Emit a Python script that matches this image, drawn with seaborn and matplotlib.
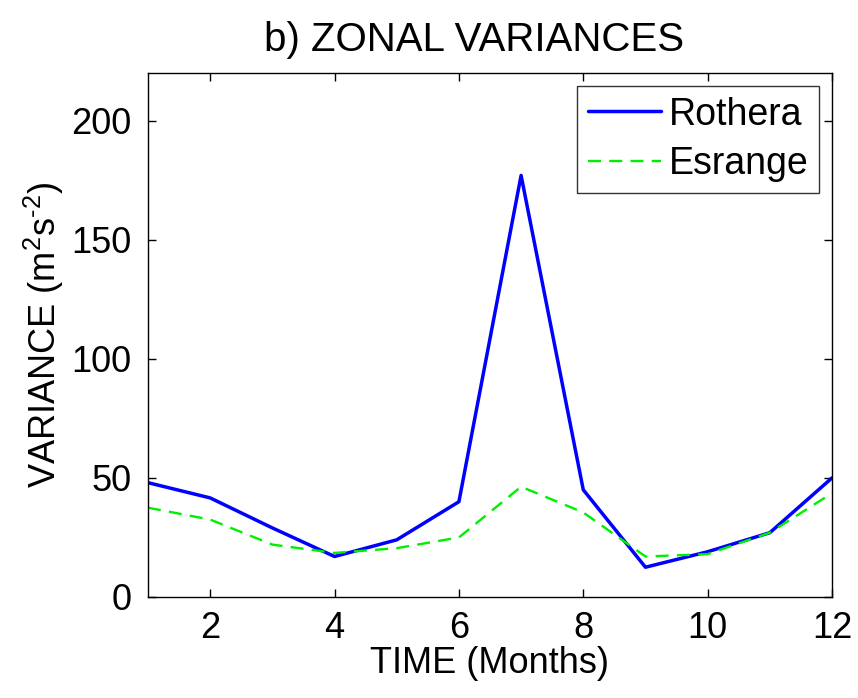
import matplotlib
matplotlib.use("Agg")
import matplotlib.pyplot as plt
import seaborn as sns
import pandas as pd

months = [1, 2, 3, 4, 5, 6, 7, 8, 9, 10, 11, 12]
rothera = [48, 41.6, 29, 17, 24, 40, 177, 45, 12.5, 19, 27, 50]
esrange = [37.5, 32.5, 22, 18.5, 20.5, 25, 46.3, 35.5, 17, 18, 27, 43.6]

sns.set_theme(style="white")
plt.rcParams['font.family'] = ['Liberation Sans', 'DejaVu Sans']
plt.rcParams['mathtext.fontset'] = 'custom'
plt.rcParams['mathtext.rm'] = 'Liberation Sans'
plt.rcParams['mathtext.it'] = 'Liberation Sans'
plt.rcParams['text.color'] = 'black'
plt.rcParams['axes.labelcolor'] = 'black'

fig = plt.figure(figsize=(8.58, 6.98), dpi=100)
ax = fig.add_axes([148/858, 1 - 597/698, (832-148)/858, (597-73)/698])

df = pd.DataFrame({"month": months, "Rothera": rothera, "Esrange": esrange})
sns.lineplot(data=df, x="month", y="Rothera", ax=ax, color="#0000ff", lw=2.5, label="Rothera")
sns.lineplot(data=df, x="month", y="Esrange", ax=ax, color="#00ee00", lw=1.7,
             linestyle=(0, (5.5, 3.5)), label="Esrange")

ax.set_xlim(1, 12)
ax.set_ylim(0, 220)
ax.set_xticks([2, 4, 6, 8, 10, 12])
ax.set_yticks([0, 50, 100, 150, 200])
ax.tick_params(direction="in", length=6, width=1, labelsize=26, top=True, right=True,
               bottom=True, left=True, colors="black")
ax.tick_params(axis="x", pad=10)
ax.tick_params(axis="y", pad=12)
for s in ax.spines.values():
    s.set_color("black")
    s.set_linewidth(1)
ax.set_xlabel("TIME (Months)", fontsize=26, labelpad=0, color="black")
ax.set_ylabel(r"VARIANCE (m$^{2}$s$^{\text{-}2}$)", fontsize=26, labelpad=4, color="black")
ax.set_title("b) ZONAL VARIANCES", fontsize=29, pad=16, color="black")
ax.title.set_x(0.477)
leg = ax.legend(loc="upper right", fontsize=27, frameon=True, fancybox=False,
                edgecolor="black", borderpad=0.28, handlelength=1.95, handletextpad=0.21,
                labelspacing=0.36, borderaxespad=0.35)
leg.get_frame().set_linewidth(1)
for t in leg.get_texts():
    t.set_color("black")
fig.savefig("out.png", dpi=100)
